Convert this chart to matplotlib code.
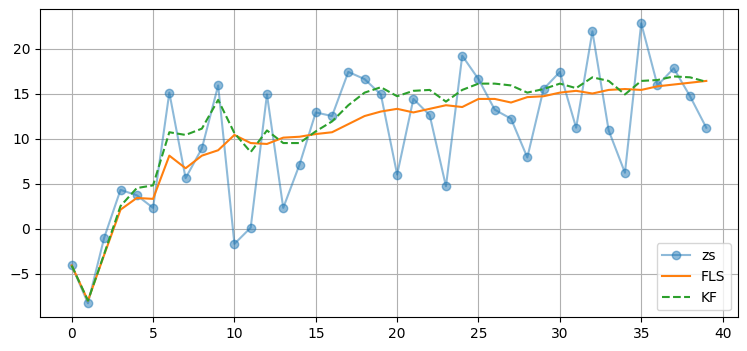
import numpy as np
import matplotlib
matplotlib.use("Agg")
import matplotlib.pyplot as plt

zs = [-4.1, -8.3, -1.0, 4.3, 3.7, 2.3, 15.1, 5.6, 8.9, 15.9,
      -1.7, 0.1, 14.9, 2.3, 7.1, 12.9, 12.5, 17.4, 16.6, 14.9,
      6.0, 14.4, 12.6, 4.7, 19.2, 16.6, 13.2, 12.2, 7.9, 15.5,
      17.4, 11.2, 21.9, 10.9, 6.2, 22.8, 15.9, 17.8, 14.7, 11.2]
fls = [-4.1, -8.0, -2.9, 2.1, 3.4, 3.3, 8.1, 6.7, 8.1, 8.7,
       10.4, 9.5, 9.4, 10.1, 10.2, 10.5, 10.7, 11.6, 12.5, 13.0,
       13.3, 12.9, 13.3, 13.7, 13.5, 14.4, 14.4, 14.0, 14.6, 14.7,
       15.1, 15.3, 15.0, 15.4, 15.5, 15.4, 15.8, 16.0, 16.2, 16.4]
kf = [-4.1, -8.0, -2.8, 2.5, 4.5, 4.8, 10.7, 10.4, 11.1, 14.3,
      10.6, 8.5, 10.9, 9.5, 9.5, 10.8, 11.9, 13.7, 15.1, 15.7,
      14.7, 15.3, 15.4, 14.1, 15.4, 16.1, 16.1, 15.9, 15.1, 15.5,
      16.1, 15.6, 16.8, 16.4, 14.9, 16.4, 16.5, 16.9, 16.8, 16.3]

fig = plt.figure(figsize=(7.47, 3.51), dpi=100)
ax = fig.add_axes([0.0535, 0.096, 0.9345, 0.8775])

ax.plot(zs, 'o-', alpha=0.5, label='zs')
ax.plot(fls, label='FLS')
ax.plot(kf, '--', label='KF')
ax.grid()
ax.legend(loc=4)

fig.savefig('out.png', dpi=100)
